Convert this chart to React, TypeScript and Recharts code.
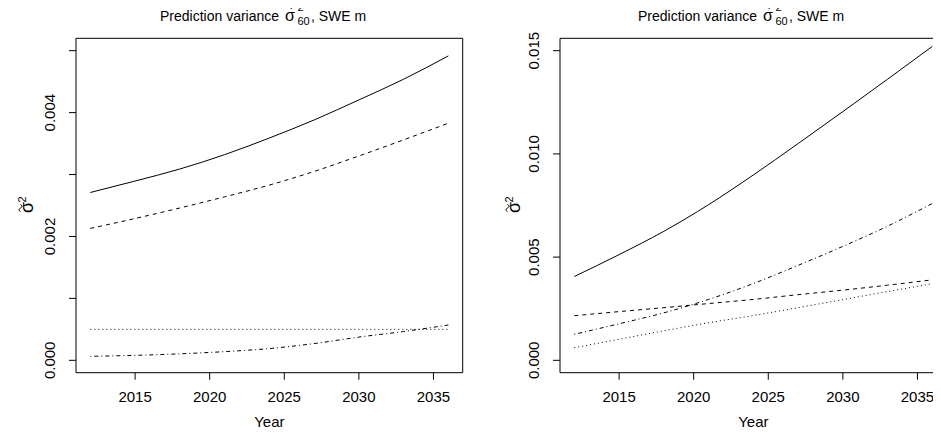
import React from 'react';
import { LineChart, Line, XAxis, YAxis, ReferenceArea } from 'recharts';

const years = [2012, 2015, 2018, 2021, 2024, 2027, 2030, 2033, 2036];

// left panel
const leftSolid = [0.00271, 0.002895, 0.003089, 0.003321, 0.00359, 0.003881, 0.004205, 0.004539, 0.004916];
const leftDashed = [0.00213, 0.00229, 0.00246, 0.00264, 0.00283, 0.00305, 0.0033, 0.00356, 0.00383];
const leftDotted = [0.0005, 0.0005, 0.0005, 0.0005, 0.0005, 0.0005, 0.0005, 0.0005, 0.0005];
const leftDotDash = [0.000065, 0.00008, 0.000105, 0.00014, 0.00019, 0.00027, 0.000375, 0.000465, 0.00057];

// right panel
const rightSolid = [0.00406, 0.00512, 0.00625, 0.00754, 0.00898, 0.0105, 0.01205, 0.01362, 0.01521];
const rightDashed = [0.00216, 0.00236, 0.00255, 0.00275, 0.00295, 0.00318, 0.0034, 0.00364, 0.0039];
const rightDotted = [0.00061, 0.00102, 0.00143, 0.00182, 0.00217, 0.00255, 0.00294, 0.00333, 0.00371];
const rightDotDash = [0.00126, 0.00177, 0.0023, 0.00295, 0.00372, 0.0046, 0.00552, 0.0065, 0.0076];

const xTicks = [2015, 2020, 2025, 2030, 2035];
const leftYTicks = [0, 0.001, 0.002, 0.003, 0.004, 0.005];
const rightYTicks = [0, 0.005, 0.01, 0.015];

const FONT = '"Liberation Sans", Arial, Helvetica, sans-serif';
const X_DOMAIN: [number, number] = [2011.04, 2036.96];

const makeRows = (solid: number[], dashed: number[], dotted: number[], dotDash: number[]) =>
  years.map((year, i) => ({ year, solid: solid[i], dashed: dashed[i], dotted: dotted[i], dotDash: dotDash[i] }));

const leftData = makeRows(leftSolid, leftDashed, leftDotted, leftDotDash);
const rightData = makeRows(rightSolid, rightDashed, rightDotted, rightDotDash);

// rotated y tick labels, R style (las = 0)
const YTick = (props: any) => {
  const { x, y, payload, every } = props;
  const v = payload.value;
  if (every === 2 && Math.round(v * 1000) % 2 !== 0) return null;
  return (
    <text
      x={x}
      y={y}
      transform={`rotate(-90 ${x} ${y})`}
      textAnchor="middle"
      fontSize={15}
      fill="#000"
      fontFamily={FONT}
    >
      {v.toFixed(3)}
    </text>
  );
};

type PanelProps = {
  data: any[];
  yDomain: [number, number];
  yTicks: number[];
  every: number;
  yAxisWidth: number;
  rightMargin: number;
};

const Panel = ({ data, yDomain, yTicks, every, yAxisWidth, rightMargin }: PanelProps) => (
  <LineChart
    width={480}
    height={435}
    data={data}
    margin={{ top: 38.3, right: rightMargin, bottom: 0, left: 0 }}
    style={{ fontFamily: FONT }}
  >
    <XAxis
      dataKey="year"
      type="number"
      domain={X_DOMAIN}
      ticks={xTicks}
      allowDataOverflow
      height={62.3}
      axisLine={false}
      tickSize={7}
      tickMargin={12}
      tickLine={{ stroke: '#000' }}
      tick={{ fill: '#000', fontSize: 15 }}
      label={{ value: 'Year', position: 'insideBottom', offset: 8, fill: '#000', fontSize: 15 }}
    />
    <YAxis
      type="number"
      domain={yDomain}
      ticks={yTicks}
      allowDataOverflow
      width={yAxisWidth}
      axisLine={false}
      tickSize={7}
      tickMargin={14.2}
      tickLine={{ stroke: '#000' }}
      tick={(p: any) => <YTick {...p} every={every} />}
    />
    <ReferenceArea
      x1={X_DOMAIN[0]}
      x2={X_DOMAIN[1]}
      y1={yDomain[0]}
      y2={yDomain[1]}
      fill="none"
      stroke="#000"
      strokeWidth={1}
      ifOverflow="visible"
    />
    <Line type="monotone" dataKey="solid" stroke="#000" strokeWidth={1} dot={false} isAnimationActive={false} />
    <Line type="monotone" dataKey="dashed" stroke="#000" strokeWidth={1} strokeDasharray="4 4" dot={false} isAnimationActive={false} />
    <Line type="monotone" dataKey="dotted" stroke="#000" strokeWidth={1} strokeDasharray="1 3" dot={false} isAnimationActive={false} />
    <Line type="monotone" dataKey="dotDash" stroke="#000" strokeWidth={1} strokeDasharray="1 3 4 3" dot={false} isAnimationActive={false} />
  </LineChart>
);

// title: "Prediction variance  σ̃²₆₀, SWE m" with stacked super/subscript; tilde drawn as a little wave
const Title = ({ dx }: { dx: number }) => (
  <g transform={`translate(${dx} 0)`} fill="#000">
    <text x={160} y={21} fontSize={14}>Prediction variance</text>
    <text x={285} y={21} fontSize={16}>σ</text>
    <path d="M286 7 q1.75 -3 3.5 0 t3.5 0" fill="none" stroke="#000" strokeWidth={1} />
    <text x={297.5} y={11} fontSize={11}>2</text>
    <text x={297.5} y={25} fontSize={11}>60</text>
    <text x={311} y={21} fontSize={14} style={{ whiteSpace: 'pre' }}>, SWE m</text>
  </g>
);

// rotated axis label σ̃²
const YLabel = ({ x, y }: { x: number; y: number }) => (
  <g transform={`translate(${x} ${y}) rotate(-90)`} fill="#000">
    <text x={-8} y={0} fontSize={18}>σ</text>
    <path d="M-6.5 -12.5 q1.75 -3.2 3.5 0 t3.5 0" fill="none" stroke="#000" strokeWidth={1} />
    <text x={2.5} y={-7.5} fontSize={11}>2</text>
  </g>
);

export default function App() {
  return (
    <div
      style={{
        position: 'relative',
        width: 941,
        height: 435,
        margin: -8,
        overflow: 'hidden',
        background: '#fff',
        fontFamily: FONT,
      }}
    >
      <div style={{ position: 'absolute', left: 0, top: 0 }}>
        <Panel data={leftData} yDomain={[-0.0002, 0.0052]} yTicks={leftYTicks} every={2} yAxisWidth={76} rightMargin={17.3} />
      </div>
      <div style={{ position: 'absolute', left: 480, top: 0 }}>
        <Panel data={rightData} yDomain={[-0.0006, 0.0156]} yTicks={rightYTicks} every={1} yAxisWidth={80} rightMargin={13.3} />
      </div>
      <svg
        width={941}
        height={435}
        style={{ position: 'absolute', left: 0, top: 0, pointerEvents: 'none', fontFamily: FONT }}
      >
        <Title dx={0} />
        <Title dx={478} />
        <YLabel x={33} y={205} />
        <YLabel x={520} y={205} />
      </svg>
    </div>
  );
}
